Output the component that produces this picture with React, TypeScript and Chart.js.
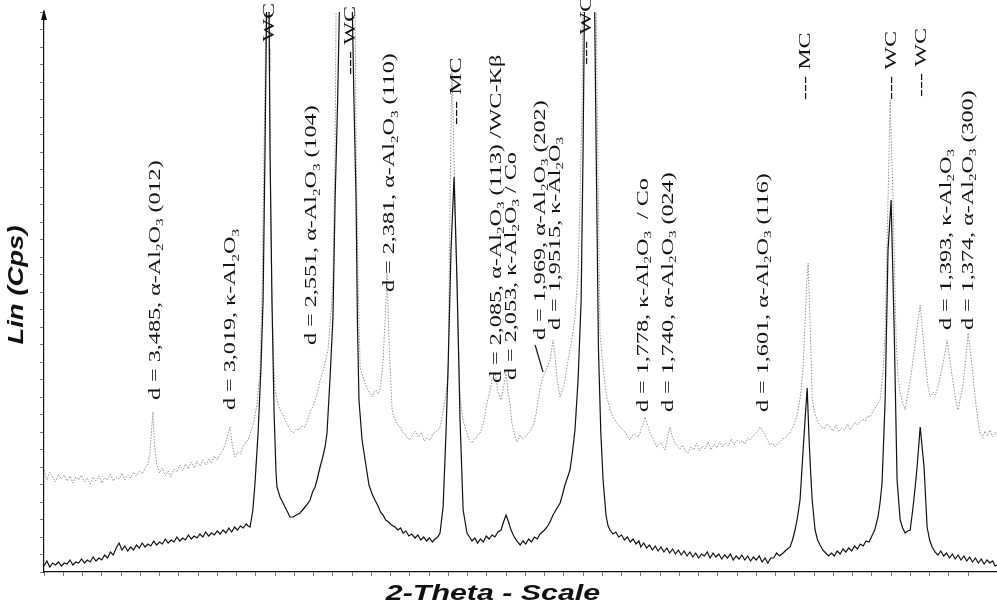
import React, { useEffect, useRef } from "react";
import { Chart, registerables } from "chart.js";

Chart.register(...registerables);

// 2-theta (deg) / intensity (arbitrary cps units)
const blackScan: [number, number][] = [
  [20.0, 6], [20.15, 11], [20.3, 5], [20.45, 9], [20.6, 7], [20.75, 10], [20.9, 6], [21.05, 9], [21.2, 8], [21.35, 12],
  [21.5, 7], [21.65, 10], [21.8, 9], [21.95, 13], [22.1, 9], [22.25, 12], [22.4, 10], [22.55, 15], [22.7, 11], [22.85, 14],
  [23.0, 12], [23.15, 17], [23.3, 14], [23.45, 20], [23.6, 17], [23.75, 24], [23.9, 29], [24.05, 22], [24.2, 26], [24.35, 21],
  [24.5, 25], [24.65, 22], [24.8, 27], [24.95, 24], [25.1, 29], [25.25, 25], [25.4, 28], [25.55, 26], [25.7, 31], [25.85, 27],
  [26.0, 30], [26.15, 28], [26.3, 33], [26.45, 29], [26.6, 32], [26.75, 30], [26.9, 35], [27.05, 31], [27.2, 34], [27.35, 32],
  [27.5, 37], [27.65, 33], [27.8, 36], [27.95, 34], [28.1, 38], [28.25, 35], [28.4, 40], [28.55, 36], [28.7, 39], [28.85, 37],
  [29.0, 41], [29.15, 38], [29.3, 42], [29.45, 39], [29.6, 44], [29.75, 40], [29.9, 45], [30.05, 42], [30.2, 46], [30.35, 44],
  [30.5, 48], [30.6, 46], [30.7, 45], [30.85, 62], [30.96, 89], [31.12, 139], [31.27, 205], [31.38, 272], [31.48, 422],
  [31.64, 700], [31.74, 422], [31.84, 272], [31.95, 160], [32.05, 100], [32.1, 85], [32.26, 75], [32.39, 70], [32.52, 65],
  [32.65, 60], [32.78, 55], [32.94, 55], [33.1, 57], [33.3, 59], [33.43, 62], [33.56, 65], [33.69, 68], [33.82, 72],
  [33.95, 80], [34.08, 85], [34.18, 92], [34.34, 105], [34.44, 112], [34.6, 125], [34.7, 139], [34.86, 195], [35.01, 255],
  [35.12, 372], [35.25, 470], [35.38, 600], [35.7, 800], [35.98, 600], [36.1, 470], [36.21, 372], [36.28, 250], [36.36, 172],
  [36.52, 132], [36.68, 112],
  [36.88, 87], [37.04, 78], [37.19, 72], [37.35, 66], [37.48, 60], [37.61, 57], [37.75, 52], [37.9, 50], [38.05, 47],
  [38.23, 45], [38.38, 42], [38.52, 44], [38.65, 39], [38.8, 41], [38.95, 36], [39.1, 38], [39.27, 34], [39.42, 37],
  [39.57, 32], [39.72, 35], [39.87, 31], [40.02, 34], [40.17, 30], [40.31, 33], [40.45, 35], [40.57, 39], [40.73, 65],
  [40.88, 139], [40.99, 205], [41.14, 322], [41.3, 395], [41.45, 292], [41.61, 152], [41.77, 62], [41.97, 39], [42.1, 35],
  [42.23, 31], [42.38, 34], [42.52, 29], [42.67, 33], [42.82, 30], [42.97, 36], [43.12, 33], [43.27, 37], [43.42, 35],
  [43.58, 40], [43.74, 42], [43.87, 50], [44.0, 57], [44.13, 50], [44.26, 42], [44.4, 36], [44.56, 31], [44.73, 27],
  [44.88, 31], [45.02, 28], [45.17, 33], [45.32, 30], [45.47, 35], [45.62, 33], [45.77, 38], [45.95, 41], [46.13, 45],
  [46.28, 50], [46.44, 57], [46.62, 63], [46.81, 69], [46.94, 78], [47.06, 87], [47.2, 95], [47.32, 102], [47.45, 120],
  [47.58, 142], [47.74, 192], [47.9, 272], [48.0, 422], [48.1, 620], [48.31, 800], [48.57, 620], [48.68, 422], [48.8, 222],
  [48.92, 140], [49.04, 92], [49.19, 57], [49.3, 46], [49.4, 42], [49.55, 38], [49.7, 40], [49.85, 35], [50.0, 37],
  [50.15, 32], [50.3, 35], [50.45, 30], [50.6, 33], [50.75, 28], [50.9, 31],
  [51.0, 25], [51.15, 29], [51.3, 24], [51.45, 27], [51.6, 22], [51.75, 26],
  [51.9, 21], [52.05, 25], [52.2, 20], [52.35, 24], [52.5, 19], [52.65, 23], [52.8, 18], [52.95, 22], [53.1, 17], [53.25, 21],
  [53.4, 16], [53.55, 20], [53.7, 15], [53.85, 19], [54.0, 14], [54.15, 18], [54.3, 16], [54.45, 20], [54.6, 14], [54.75, 19],
  [54.9, 15], [55.05, 18], [55.2, 13], [55.35, 17], [55.5, 14], [55.65, 18], [55.8, 12], [55.95, 16], [56.1, 13], [56.25, 17],
  [56.4, 12], [56.55, 16], [56.7, 11], [56.85, 15], [57.0, 12], [57.15, 16], [57.3, 10], [57.45, 14], [57.6, 9], [57.75, 14],
  [57.9, 14], [58.05, 19], [58.2, 16], [58.39, 19], [58.55, 22], [58.75, 25], [58.88, 32], [59.01, 42], [59.14, 55],
  [59.27, 72], [59.43, 122], [59.53, 152], [59.64, 184], [59.74, 132], [59.82, 100], [59.9, 72], [60.05, 42], [60.18, 32],
  [60.31, 27], [60.45, 22], [60.6, 19], [60.75, 16], [60.9, 19], [61.05, 16], [61.2, 21], [61.35, 18], [61.5, 23],
  [61.65, 20], [61.8, 24], [61.95, 21], [62.1, 26], [62.25, 23], [62.4, 28], [62.55, 26], [62.7, 31], [62.85, 30],
  [63.0, 36], [63.15, 42], [63.32, 55], [63.43, 70], [63.53, 89], [63.69, 172], [63.84, 322], [64.0, 372], [64.16, 242],
  [64.31, 92], [64.47, 52], [64.6, 44], [64.73, 39], [64.86, 41], [64.99, 42], [65.14, 65], [65.25, 85], [65.35, 105],
  [65.43, 125], [65.51, 145], [65.61, 125], [65.71, 105], [65.87, 45], [66.0, 32], [66.13, 25], [66.28, 20], [66.43, 17],
  [66.58, 21], [66.73, 16], [66.88, 19], [67.03, 14], [67.18, 18], [67.33, 13], [67.48, 17], [67.63, 12], [67.78, 16],
  [67.93, 11], [68.08, 15], [68.23, 10], [68.38, 14], [68.53, 9], [68.68, 13], [68.83, 8], [68.98, 12], [69.13, 9],
  [69.28, 11], [69.4, 6], [69.5, 7],
];

const grayScan: [number, number][] = [
  [20.0, 102], [20.15, 92], [20.3, 100], [20.45, 95], [20.6, 90], [20.75, 98], [20.9, 93], [21.05, 97], [21.2, 91], [21.35, 96],
  [21.5, 89], [21.65, 95], [21.8, 92], [21.95, 97], [22.1, 90], [22.25, 94], [22.4, 88], [22.55, 95], [22.7, 91], [22.85, 96],
  [23.0, 89], [23.15, 94], [23.3, 92], [23.45, 98], [23.6, 91], [23.75, 95], [23.9, 93], [24.05, 99], [24.2, 92], [24.35, 97],
  [24.5, 94], [24.65, 100], [24.8, 96], [24.95, 101], [25.1, 98], [25.25, 104], [25.4, 108], [25.5, 118], [25.6, 145],
  [25.66, 160], [25.74, 127], [25.85, 108], [26.0, 99], [26.15, 104], [26.3, 96], [26.45, 101], [26.6, 95], [26.75, 103],
  [26.9, 100], [27.05, 107], [27.2, 101], [27.35, 108], [27.5, 103], [27.65, 110], [27.8, 104], [27.95, 111], [28.1, 106],
  [28.25, 112], [28.4, 107], [28.55, 113], [28.7, 109], [28.85, 116], [29.0, 112], [29.15, 118], [29.3, 122], [29.45, 130],
  [29.58, 140], [29.66, 145], [29.78, 127], [29.92, 115], [30.05, 120], [30.2, 118], [30.35, 126], [30.47, 130], [30.6, 132],
  [30.73, 140], [30.86, 147], [31.06, 167], [31.22, 202], [31.32, 272], [31.43, 422], [31.64, 700], [31.74, 422],
  [31.84, 272], [31.95, 200], [32.0, 182], [32.13, 170], [32.26, 162], [32.39, 158], [32.52, 152], [32.62, 148],
  [32.73, 144], [32.84, 141], [32.94, 139], [33.1, 143], [33.25, 142], [33.4, 146], [33.56, 145], [33.69, 152], [33.82, 160],
  [33.95, 165], [34.08, 172], [34.21, 180], [34.34, 192], [34.45, 198], [34.55, 205], [34.65, 213], [34.75, 222],
  [34.91, 260], [35.01, 292], [35.12, 422], [35.22, 700], [35.7, 800], [36.1, 700], [36.21, 422], [36.31, 292], [36.42, 205],
  [36.55, 196], [36.68, 189], [36.78, 184], [36.88, 180], [37.04, 175], [37.15, 180], [37.25, 182], [37.35, 178],
  [37.45, 182], [37.53, 195], [37.61, 210], [37.71, 250], [37.82, 299], [37.92, 232], [38.0, 195], [38.08, 162],
  [38.18, 155], [38.29, 150], [38.39, 147], [38.49, 145], [38.62, 140], [38.75, 138], [38.88, 134], [39.01, 132],
  [39.15, 137], [39.3, 141], [39.45, 135], [39.6, 139], [39.75, 131], [39.9, 134], [40.05, 132], [40.2, 138], [40.35, 140],
  [40.47, 142], [40.57, 145], [40.73, 160], [40.83, 172], [40.99, 195], [41.09, 372], [41.19, 507], [41.35, 372],
  [41.51, 242], [41.61, 172], [41.77, 152], [41.87, 145], [42.03, 135], [42.13, 131], [42.23, 129], [42.33, 133],
  [42.44, 134], [42.55, 137], [42.65, 139], [42.76, 145], [42.86, 152], [43.01, 169], [43.17, 182], [43.27, 192],
  [43.43, 200], [43.58, 180], [43.74, 172], [43.9, 188], [44.0, 200], [44.1, 180], [44.21, 168], [44.31, 148], [44.47, 135],
  [44.57, 130], [44.73, 137], [44.86, 133], [44.99, 135], [45.12, 138], [45.25, 141], [45.4, 146], [45.56, 158],
  [45.66, 172], [45.82, 188], [45.92, 195], [46.03, 200], [46.13, 205], [46.29, 212], [46.44, 232], [46.55, 215],
  [46.65, 192], [46.81, 175], [46.96, 184], [47.06, 192], [47.22, 212], [47.32, 222], [47.48, 240], [47.58, 255],
  [47.74, 300], [47.84, 372], [47.95, 472], [48.05, 700], [48.31, 800], [48.62, 700], [48.73, 472], [48.88, 239],
  [49.04, 205], [49.19, 180], [49.3, 170], [49.4, 162], [49.53, 156], [49.66, 152], [49.79, 148], [49.92, 145], [50.05, 142],
  [50.18, 140], [50.31, 136], [50.44, 132], [50.57, 137], [50.7, 138], [50.83, 135], [50.96, 139], [51.04, 144], [51.12, 148],
  [51.22, 155], [51.3, 150], [51.38, 145], [51.48, 139], [51.58, 135], [51.69, 131], [51.77, 127], [51.84, 125], [51.95, 128],
  [52.05, 129], [52.16, 125], [52.26, 122], [52.34, 130], [52.42, 138], [52.52, 145], [52.62, 136], [52.78, 129],
  [52.91, 125], [53.04, 123], [53.17, 127], [53.3, 121], [53.45, 119], [53.6, 125], [53.75, 122], [53.9, 129], [54.05, 121],
  [54.2, 126], [54.35, 123], [54.5, 130], [54.65, 122], [54.8, 128], [54.95, 124], [55.1, 131], [55.25, 125], [55.4, 129],
  [55.55, 126], [55.7, 133], [55.85, 127], [56.0, 132], [56.15, 129], [56.3, 131], [56.42, 128], [56.55, 134], [56.68, 132],
  [56.81, 136], [56.94, 138], [57.07, 141], [57.19, 145], [57.32, 141], [57.45, 137], [57.58, 132], [57.71, 127],
  [57.84, 129], [57.97, 125], [58.1, 128], [58.23, 130], [58.36, 133], [58.49, 134], [58.62, 137], [58.75, 139], [58.88, 144],
  [59.01, 150], [59.09, 155], [59.17, 162], [59.32, 180], [59.43, 205], [59.53, 250], [59.62, 290], [59.69, 309],
  [59.79, 250], [59.9, 172], [60.05, 158], [60.21, 149], [60.36, 146], [60.52, 143], [60.67, 148], [60.83, 145], [60.98, 141],
  [61.13, 147], [61.28, 140], [61.43, 144], [61.58, 142], [61.73, 148], [61.87, 142], [62.0, 146], [62.13, 150], [62.26, 147],
  [62.39, 150], [62.52, 153], [62.65, 151], [62.78, 156], [62.91, 155], [63.04, 160], [63.17, 164], [63.3, 168], [63.43, 172],
  [63.58, 200], [63.69, 239], [63.84, 372], [63.95, 472], [64.1, 372], [64.26, 232], [64.36, 195], [64.47, 179], [64.62, 168],
  [64.73, 162], [64.88, 180], [65.0, 192], [65.09, 205], [65.25, 228], [65.4, 252], [65.51, 267], [65.61, 245], [65.77, 212],
  [65.92, 185], [66.03, 175], [66.18, 180], [66.29, 177], [66.44, 186], [66.55, 195], [66.65, 205], [66.81, 220], [66.91, 232],
  [67.06, 210], [67.22, 189], [67.38, 170], [67.48, 162], [67.58, 172], [67.69, 182], [67.84, 205], [68.0, 239], [68.1, 222],
  [68.21, 205], [68.36, 175], [68.52, 150], [68.62, 139], [68.75, 134], [68.88, 141], [69.0, 136], [69.14, 142], [69.27, 135],
  [69.4, 140], [69.5, 137],
];

// peak annotations: text ("_n" = subscript), 2-theta of the text column, intensity where the text starts
const labelTexts = [
  "d = 3,485, α-Al_2O_3 (012)",
  "d = 3,019, κ-Al_2O_3",
  "d = 2,551, α-Al_2O_3 (104)",
  "d = 2,381, α-Al_2O_3 (110)",
  "d = 2,085, α-Al_2O_3 (113) /WC-Kβ",
  "d = 2,053, κ-Al_2O_3 / Co",
  "d = 1,969, α-Al_2O_3 (202)",
  "d = 1,9515, κ-Al_2O_3",
  "d = 1,778, κ-Al_2O_3  / Co",
  "d = 1,740, α-Al_2O_3 (024)",
  "d = 1,601, α-Al_2O_3 (116)",
  "d = 1,393, κ-Al_2O_3",
  "d = 1,374, α-Al_2O_3 (300)",
  "--- WC",
  "--- WC",
  "--- MC",
  "--- WC",
  "--- MC",
  "--- WC",
  "--- WC",
];
const labelTheta = [25.77, 29.71, 33.92, 37.97, 43.48, 44.26, 45.77, 46.55, 51.12, 52.42, 57.35, 66.86, 68.0,
  31.74, 35.9, 41.45, 48.2, 59.53, 64.0, 65.56];
const labelAt = [172, 162, 227, 280, 189, 192, 232, 242, 160, 160, 160, 242, 242,
  500, 497, 447, 507, 472, 472, 475];

// leader line for d = 1,969
const leaderTheta = [45.51, 45.92];
const leaderAt = [227, 200];

const X_TITLE = "2-Theta - Scale";
const Y_TITLE = "Lin (Cps)";

function drawRich(ctx: CanvasRenderingContext2D, text: string, size: number, family: string) {
  const parts = text.split(/(_\d)/);
  let x = 0;
  for (const p of parts) {
    if (!p) continue;
    if (p.startsWith("_")) {
      const s = p.slice(1);
      ctx.font = `${size * 0.62}px ${family}`;
      ctx.fillText(s, x, size * 0.3);
      x += ctx.measureText(s).width;
    } else {
      ctx.font = `${size}px ${family}`;
      ctx.fillText(p, x, 0);
      x += ctx.measureText(p).width;
    }
  }
}

const decorPlugin = {
  id: "decor",
  afterDraw(chart: any) {
    const ctx: CanvasRenderingContext2D = chart.ctx;
    const xs = chart.scales.x;
    const ys = chart.scales.y;
    const area = chart.chartArea;
    ctx.save();
    // y axis arrow
    ctx.fillStyle = "#111";
    ctx.beginPath();
    ctx.moveTo(area.left, area.top - 3);
    ctx.lineTo(area.left - 3, area.top + 8);
    ctx.lineTo(area.left + 3, area.top + 8);
    ctx.closePath();
    ctx.fill();

    // annotations
    const fam = "'Liberation Serif', 'DejaVu Serif', serif";
    ctx.fillStyle = "#151515";
    ctx.textAlign = "left";
    ctx.textBaseline = "middle";
    for (let i = 0; i < labelTexts.length; i++) {
      const px = xs.getPixelForValue(labelTheta[i]);
      const py = ys.getPixelForValue(labelAt[i]);
      ctx.save();
      ctx.translate(px, py);
      ctx.rotate(-Math.PI / 2);
      ctx.scale(1.42, 1);
      drawRich(ctx, labelTexts[i], 17, fam);
      ctx.restore();
    }
    // leader line
    ctx.strokeStyle = "#222";
    ctx.lineWidth = 1.3;
    ctx.beginPath();
    ctx.moveTo(xs.getPixelForValue(leaderTheta[0]), ys.getPixelForValue(leaderAt[0]));
    ctx.lineTo(xs.getPixelForValue(leaderTheta[1]), ys.getPixelForValue(leaderAt[1]));
    ctx.stroke();

    // titles
    const tf = "'Liberation Sans', Arial, sans-serif";
    ctx.fillStyle = "#111";
    ctx.textAlign = "center";
    ctx.textBaseline = "middle";
    ctx.save();
    ctx.translate(493, 594);
    ctx.scale(1.38, 1);
    ctx.font = `italic bold 22px ${tf}`;
    ctx.fillText(X_TITLE, 0, 0);
    ctx.restore();
    ctx.save();
    ctx.translate(17, 285);
    ctx.rotate(-Math.PI / 2);
    ctx.scale(1.25, 1);
    ctx.font = `italic bold 22px ${tf}`;
    ctx.fillText(Y_TITLE, 0, 0);
    ctx.restore();
    ctx.restore();
  },
};

export default function App() {
  const ref = useRef<HTMLCanvasElement | null>(null);
  useEffect(() => {
    if (!ref.current) return;
    const chart = new Chart(ref.current, {
      type: "line",
      data: {
        datasets: [
          {
            label: "black",
            data: blackScan.map(([x, y]) => ({ x, y })),
            borderColor: "#111111",
            borderWidth: 1.2,
            pointRadius: 0,
            tension: 0,
          },
          {
            label: "gray",
            data: grayScan.map(([x, y]) => ({ x, y })),
            borderColor: "#929292",
            borderWidth: 1,
            borderDash: [1.5, 1.5],
            pointRadius: 0,
            tension: 0,
          },
        ],
      },
      options: {
        animation: false,
        responsive: false,
        events: [],
        layout: { padding: { top: 12, right: 0, left: 0, bottom: 0 } },
        plugins: { legend: { display: false }, tooltip: { enabled: false }, title: { display: false } },
        scales: {
          x: {
            type: "linear",
            min: 20,
            max: 69.5,
            ticks: { display: false, stepSize: 1 },
            grid: { drawOnChartArea: false, drawTicks: true, tickLength: 4, color: "#777" },
            border: { display: true, color: "#111", width: 1.2 },
            afterFit: (s: any) => { s.height = 35; },
          },
          y: {
            min: 0,
            max: 560,
            ticks: { display: false, stepSize: 17.5 },
            grid: { drawOnChartArea: false, drawTicks: true, tickLength: 4, color: "#777" },
            border: { display: true, color: "#111", width: 1.2 },
            afterFit: (s: any) => { s.width = 44; },
          },
        },
      },
      plugins: [decorPlugin],
    });
    return () => chart.destroy();
  }, []);
  return (
    <div style={{ position: "fixed", left: 0, top: 0, width: 997, height: 607, background: "#fff" }}>
      <canvas ref={ref} width={997} height={607} style={{ width: 997, height: 607 }} />
    </div>
  );
}
